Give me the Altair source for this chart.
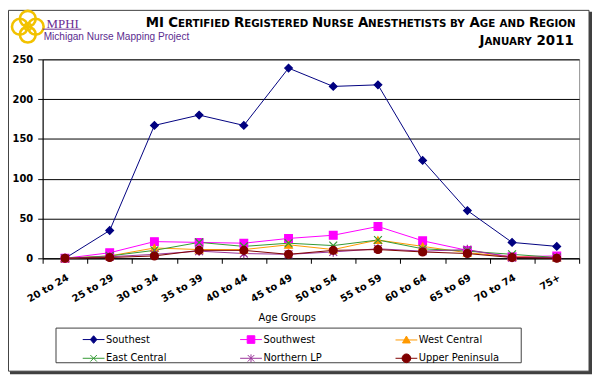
import altair as alt
import pandas as pd

ages = ["20 to 24", "25 to 29", "30 to 34", "35 to 39", "40 to 44", "45 to 49",
        "50 to 54", "55 to 59", "60 to 64", "65 to 69", "70 to 74", "75+"]
regions = ["Southest", "Southwest", "West Central", "East Central", "Northern LP", "Upper Peninsula"]

southest = [0, 35, 167, 180, 167, 239, 216, 218, 123, 60, 20, 15]
southwest = [0, 7, 21, 20, 19, 25, 29, 40, 22, 10, 2, 3]
west_central = [0, 3, 13, 11, 11, 17, 11, 23, 15, 7, 2, 1]
east_central = [0, 3, 10, 20, 15, 19, 16, 23, 12, 9, 5, 1]
northern_lp = [0, 2, 5, 9, 6, 5, 8, 12, 9, 11, 1, 1]
upper_peninsula = [0, 1, 3, 10, 10, 5, 10, 11, 8, 6, 1, 0]
y_ticks = [0, 50, 100, 150, 200, 250]

title_line1 = "MI Certified Registered Nurse Anesthetists by Age and Region"
title_line2 = "January 2011"

colors = ["#000080", "#FF00FF", "#FF9900", "#339933", "#993399", "#800000"]
shapes = ["diamond", "square", "triangle-up",
          "M-1,-1L1,1M-1,1L1,-1",
          "M-1,-1L1,1M-1,1L1,-1M0,-1.2L0,1.2",
          "circle"]
sizes = [60, 64, 64, 49, 49, 90]
legend_paths = [
    "M-2,0L2,0M0,-0.7L0.6,0L0,0.7L-0.6,0Z",
    "M-2,0L2,0M-0.7,-0.7L0.7,-0.7L0.7,0.7L-0.7,0.7Z",
    "M-2,0L2,0M0,-0.72L0.72,0.55L-0.72,0.55Z",
    "M-2,0L2,0M-0.6,-0.6L0.6,0.6M-0.6,0.6L0.6,-0.6",
    "M-2,0L2,0M-0.6,-0.6L0.6,0.6M-0.6,0.6L0.6,-0.6M0,-0.72L0,0.72",
    "M-2,0L2,0M-0.8,0A0.8,0.8 0 1,0 0.8,0A0.8,0.8 0 1,0 -0.8,0Z",
]

series = [southest, southwest, west_central, east_central, northern_lp, upper_peninsula]
rows = []
for r, vals in zip(regions, series):
    for a, v in zip(ages, vals):
        rows.append({"age": a, "region": r, "count": v})
df = pd.DataFrame(rows)

FONT = "DejaVu Sans"

x = alt.X("age:N",
          scale=alt.Scale(type="band", domain=ages, paddingInner=0, paddingOuter=0),
          axis=alt.Axis(title=None, labelAngle=-30, labelAlign="right", labelBaseline="top",
                        tickBand="extent", grid=False, labelPadding=9))
y = alt.Y("count:Q",
          scale=alt.Scale(domain=[0, 250], nice=False),
          axis=alt.Axis(values=y_ticks, title=None, grid=True, labelPadding=5))

color_scale = alt.Scale(domain=regions, range=colors)
base = alt.Chart(df)

lines = base.mark_line(strokeWidth=1).encode(
    x=x, y=y,
    color=alt.Color("region:N", scale=color_scale, legend=None),
    detail="region:N",
)

points = base.mark_point(filled=True, opacity=1, strokeWidth=1.2).encode(
    x=x, y=y,
    fill=alt.Fill("region:N", scale=color_scale, legend=None),
    stroke=alt.Stroke("region:N", scale=color_scale, legend=None),
    shape=alt.Shape("region:N", scale=alt.Scale(domain=regions, range=shapes), legend=None),
    size=alt.Size("region:N", scale=alt.Scale(domain=regions, range=sizes), legend=None),
)

leg = alt.Legend(orient="none", legendX=45.5, legendY=277, direction="horizontal",
                 columns=3, title=None, symbolSize=121, symbolStrokeWidth=1,
                 labelFont=FONT, labelFontSize=10, labelColor="#000000",
                 columnPadding=72, rowPadding=6, padding=0, labelOffset=6.5)

legend_layer = base.transform_filter("false").mark_point(filled=True, opacity=1).encode(
    x=x, y=y,
    fill=alt.Fill("region:N", scale=color_scale, legend=leg),
    stroke=alt.Stroke("region:N", scale=color_scale, legend=leg),
    shape=alt.Shape("region:N", scale=alt.Scale(domain=regions, range=legend_paths), legend=leg),
)

one = pd.DataFrame({"k": [0]})

def deco():
    return alt.Chart(one)

frame = deco().mark_rect(fillOpacity=0, stroke="#404040", strokeWidth=1).encode(
    x=alt.value(-34.5), x2=alt.value(552), y=alt.value(-49.5), y2=alt.value(315))
frame_r = deco().mark_rule(stroke="#404040", strokeWidth=3).encode(
    x=alt.value(553.5), y=alt.value(-48), y2=alt.value(317.5))
frame_b = deco().mark_rule(stroke="#404040", strokeWidth=3).encode(
    x=alt.value(-33), x2=alt.value(555), y=alt.value(316.5))
legend_box = deco().mark_rect(fillOpacity=0, stroke="#404040", strokeWidth=1).encode(
    x=alt.value(13.5), x2=alt.value(483.5), y=alt.value(271.5), y2=alt.value(306.5))

# --- small-caps title built from text pieces (DejaVu Sans Bold advance widths, em) ---
W = {"A": .774, "B": .762, "C": .734, "D": .830, "E": .683, "F": .683, "G": .821, "H": .837,
     "I": .372, "J": .372, "M": .995, "N": .837, "O": .850, "R": .770, "S": .720, "T": .682,
     "U": .812, "Y": .724, " ": .348, "0": .696, "1": .696, "2": .696}
K = 0.985
BIG, SMALL = 13.5, 10.4


def pieces(line):
    out = []  # (text, size)
    for wi, word in enumerate(line.split(" ")):
        if wi > 0:
            out.append((" ", BIG))
        cur, cur_big = "", None
        for ch in word:
            is_big = ch.isupper() or ch.isdigit()
            if cur and is_big != cur_big:
                out.append((cur, BIG if cur_big else SMALL))
                cur = ""
            cur_big = is_big
            cur += ch.upper()
        if cur:
            out.append((cur, BIG if cur_big else SMALL))
    return out


def title_layer(line, right_x, base_y):
    ps = pieces(line)
    widths = [sum(W.get(c, .7) for c in t) * s * K for t, s in ps]
    xpos = right_x - sum(widths)
    recs = []
    for (t, s), w in zip(ps, widths):
        if t.strip():
            recs.append({"t": t, "s": s, "x": xpos})
        xpos += w
    d = pd.DataFrame(recs)
    layers = []
    for s in (BIG, SMALL):
        sub = d[d["s"] == s]
        layers.append(alt.Chart(sub).mark_text(
            align="left", baseline="alphabetic", font=FONT, fontSize=s,
            fontWeight="bold", color="#000000").encode(
            x=alt.X("x:Q", scale=None), y=alt.value(base_y), text="t:N"))
    return layers


t1 = title_layer(title_line1, 538, -33)
t2 = title_layer(title_line2, 536, -15)

xtitle = deco().mark_text(align="center", baseline="middle", font=FONT, fontSize=10,
                          color="#000000", text="Age Groups").encode(
    x=alt.value(247), y=alt.value(261.5))

# --- logo ---
logo_df = pd.DataFrame({"dx": [0, 0, -8, 8], "dy": [-8, 8, 0, 0]})
logo = alt.Chart(logo_df).mark_point(shape="circle", size=256, stroke="#F2C200",
                                     strokeWidth=2.6, filled=False, opacity=1).encode(
    x=alt.value(-15), y=alt.value(-33),
    xOffset=alt.XOffset("dx:Q", scale=None), yOffset=alt.YOffset("dy:Q", scale=None))
grid_df = pd.DataFrame({"x1": [-18, -18, -12, -18], "x2": [-12, -12, -12, -18],
                        "y1": [-36, -30, -36, -36], "y2": [-36, -30, -30, -30]})
logo_grid = alt.Chart(grid_df).mark_rule(stroke="#F2C200", strokeWidth=2.2).encode(
    x=alt.X("x1:Q", scale=None), x2="x2:Q", y=alt.Y("y1:Q", scale=None), y2="y2:Q")
mphi = deco().mark_text(align="left", baseline="alphabetic", font="Liberation Serif",
                        fontSize=13, color="#6A2C91", text="MPHI").encode(
    x=alt.value(4), y=alt.value(-32))
mphi_line = deco().mark_rule(stroke="#6A2C91", strokeWidth=1).encode(
    x=alt.value(0), x2=alt.value(39), y=alt.value(-30.5))
mnmp = deco().mark_text(align="left", baseline="alphabetic", font="Liberation Sans",
                        fontSize=10.2, color="#5B2C8F",
                        text="Michigan Nurse Mapping Project").encode(
    x=alt.value(1), y=alt.value(-19.5))

chart = alt.layer(
    frame, frame_r, frame_b, legend_box, lines, points, legend_layer,
    *t1, *t2, xtitle, logo, logo_grid, mphi, mphi_line, mnmp,
).resolve_scale(
    shape="independent", fill="independent", stroke="independent"
).properties(
    width=542, height=201,
    padding={"left": 35, "top": 50, "right": 13, "bottom": 117},
    autosize=alt.AutoSizeParams(type="none"),
    background="#FFFFFF",
).configure_view(
    stroke="#909090", strokeWidth=1
).configure_axis(
    labelFont=FONT, labelFontSize=10, labelFontWeight="bold", labelColor="#000000",
    domainColor="#000000", tickColor="#000000", tickSize=5,
    gridColor="#000000", gridWidth=1,
)

chart.save("out.html", embed_options={"renderer": "svg", "actions": False})
